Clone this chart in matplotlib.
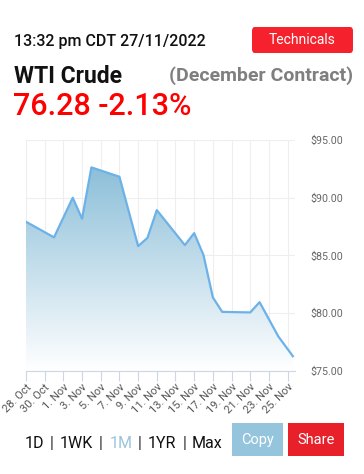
import numpy as np
import matplotlib
matplotlib.use("Agg")
from matplotlib import pyplot as plt
import matplotlib.dates as mdates
from matplotlib.patches import FancyBboxPatch, Rectangle
from datetime import datetime, timedelta

plt.rcParams['font.family'] = ['Roboto', 'DejaVu Sans']

# data
dates = ['2022-10-28 00:00', '2022-10-31 00:00', '2022-11-02 00:00', '2022-11-03 00:00',
         '2022-11-04 00:00', '2022-11-07 00:00', '2022-11-09 00:00', '2022-11-10 00:00',
         '2022-11-11 00:00', '2022-11-14 00:00', '2022-11-15 00:00', '2022-11-16 00:00',
         '2022-11-17 00:00', '2022-11-18 00:00', '2022-11-21 00:00', '2022-11-22 00:00',
         '2022-11-24 00:00', '2022-11-25 13:32']
prices = [87.92, 86.57, 90.00, 88.18, 92.63, 91.82, 85.81, 86.53, 88.93, 85.90,
          86.94, 85.03, 81.37, 80.12, 80.07, 80.96, 78.00, 76.28]
y_ticks = [75, 80, 85, 90, 95]
periods = ['1D', '1WK', '1M', '1YR', 'Max']

W, H = 364, 474
fig = plt.figure(figsize=(W / 100, H / 100), dpi=100)
fig.patch.set_facecolor('white')

def fx(px):
    return px / W

def fy(py):
    return 1 - py / H

# header
fig.text(fx(14), fy(46), '13:32 pm CDT 27/11/2022', fontsize=11.5, fontweight='medium',
         color='#111111', va='baseline', ha='left')
btn = FancyBboxPatch((fx(252), fy(53)), fx(101), 26 / H, boxstyle='round,pad=0,rounding_size=0.008',
                     transform=fig.transFigure, facecolor='#f5222d', edgecolor='none')
fig.patches.append(btn)
fig.text(fx(302.5), fy(44.5), 'Technicals', fontsize=10, color='white', ha='center', va='baseline')
fig.text(fx(14), fy(83), 'WTI Crude', fontsize=16.5, fontweight='bold', color='#111111',
         va='baseline', ha='left')
fig.text(fx(353), fy(80.5), '(December Contract)', fontsize=14, fontweight='bold', color='#7f7f7f',
         va='baseline', ha='right')
fig.text(fx(13), fy(115), '76.28 -2.13%', fontsize=22, fontweight='medium', color='#fe0000',
         va='baseline', ha='left')

# chart
ax = fig.add_axes([fx(26), fy(371), fx(295) - fx(26), (371 - 140) / H])
x = mdates.date2num([datetime.strptime(d, '%Y-%m-%d %H:%M') for d in dates])
y = np.array(prices)

x0 = mdates.date2num(datetime(2022, 10, 28))
x1 = mdates.date2num(datetime(2022, 11, 25, 19, 0))
ax.set_xlim(x0, x1)
ax.set_ylim(75, 95)

poly = ax.fill_between(x, y, 75, color='none')
grad = np.linspace(0, 1, 256)[:, None]
top = np.array([0.55, 0.75, 0.85])
bot = np.array([1.0, 1.0, 1.0])
img = top * (1 - grad) + bot * grad
im = ax.imshow(img.reshape(256, 1, 3), extent=[x0, x1, 75, max(prices)], aspect='auto',
               origin='upper', zorder=1)
im.set_clip_path(poly.get_paths()[0], transform=ax.transData)
ax.plot(x, y, color='#6cb2e8', lw=1.6, zorder=3)

tick_days = [datetime(2022, 10, 28) + timedelta(days=2 * i) for i in range(15)]
ax.set_xticks(mdates.date2num(tick_days))
ax.set_xticklabels([f'{d.day}. {d.strftime("%b")}' for d in tick_days], rotation=45,
                   ha='right', va='top', rotation_mode='anchor', fontsize=8, color='#555555')
ax.set_yticks(y_ticks)
ax.set_yticklabels([f'${v:.2f}' for v in y_ticks], fontsize=7.7, color='#666666')
ax.yaxis.tick_right()
ax.tick_params(axis='y', length=0, pad=11)
ax.tick_params(axis='x', length=7, color='#ccd6eb', pad=1)
ax.grid(True, color='#eeeeee', lw=0.8, zorder=0)
for s in ['top', 'right', 'left']:
    ax.spines[s].set_visible(False)
ax.spines['bottom'].set_color('#ccd6eb')
ax.set_axisbelow(True)

# bottom period selector
xs = [25, 60, 110, 148, 192]
for p, px in zip(periods, xs):
    c = '#9ac5dc' if p == '1M' else '#111111'
    fig.text(fx(px), fy(447.5), p, fontsize=11.5, color=c, ha='left', va='baseline')
for px in [50, 99, 138, 183]:
    fig.text(fx(px), fy(447.5), '|', fontsize=11.5, color='#222222', ha='left', va='baseline')

fig.patches.append(Rectangle((fx(232), fy(456)), fx(51), 33 / H, transform=fig.transFigure,
                             facecolor='#95c5dd', edgecolor='none'))
fig.text(fx(257.5), fy(444), 'Copy', fontsize=10.5, color='white', ha='center', va='baseline')
fig.patches.append(Rectangle((fx(288), fy(456)), fx(56), 33 / H, transform=fig.transFigure,
                             facecolor='#e8202a', edgecolor='none'))
fig.text(fx(316), fy(444), 'Share', fontsize=10.5, color='white', ha='center', va='baseline')

fig.savefig('out.png', dpi=100)
